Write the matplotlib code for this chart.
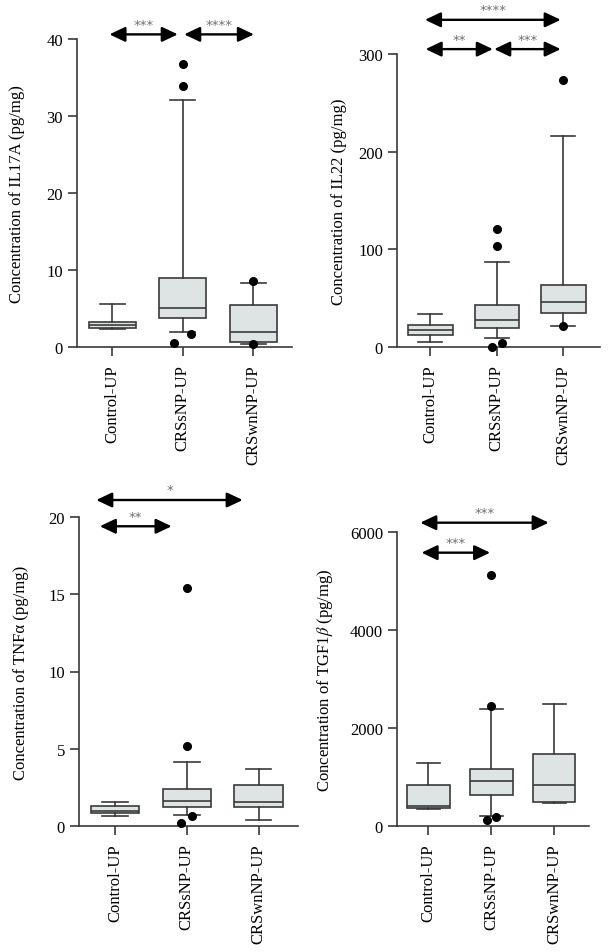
import matplotlib
matplotlib.use("Agg")
import matplotlib.pyplot as plt

plt.rcParams['font.family'] = ['Liberation Serif', 'DejaVu Serif']
plt.rcParams['mathtext.fontset'] = 'stix'

groups = ['Control-UP', 'CRSsNP-UP', 'CRSwnNP-UP']

# box stats per group: whislo, q1, med, q3, whishi
il17a_stats = [[2.4, 2.5, 2.9, 3.2, 5.6],
               [2.0, 3.8, 5.1, 9.0, 32.1],
               [0.45, 0.65, 1.9, 5.4, 8.3]]
il17a_fliers = [[], [36.8, 33.9, 0.56, 1.7], [8.6, 0.35]]
il17a_flier_dx = [[], [0, 0, -0.12, 0.12], [0, 0]]

il22_stats = [[5.5, 12.0, 17.4, 22.9, 33.8],
              [8.9, 19.5, 28.0, 42.7, 87.0],
              [21.5, 34.5, 46.5, 63.2, 216.0]]
il22_fliers = [[], [121.0, 103.5, 0.0, 4.4], [273.0, 21.5]]
il22_flier_dx = [[], [0, 0, -0.08, 0.08], [0, 0]]

tnfa_stats = [[0.67, 0.82, 1.0, 1.29, 1.57],
              [0.71, 1.23, 1.64, 2.4, 4.14],
              [0.39, 1.23, 1.55, 2.68, 3.67]]
tnfa_fliers = [[], [15.4, 5.2, 0.22, 0.65], []]
tnfa_flier_dx = [[], [0, 0, -0.08, 0.08], []]

tgf_stats = [[354, 367, 408, 830, 1279],
             [204, 633, 918, 1156, 2395],
             [463, 490, 843, 1469, 2490]]
tgf_fliers = [[], [5129, 2449, 116, 184], []]
tgf_flier_dx = [[], [0, 0, -0.07, 0.07], []]

# significance arrows: (x start, x end, y value, stars)
il17a_sig = [(0.96, 1.93, 40.6, '***'), (2.02, 3.01, 40.6, '****')]
il22_sig = [(0.92, 2.96, 335, '****'), (0.93, 1.94, 305, '**'), (1.96, 2.96, 305, '***')]
tnfa_sig = [(0.74, 2.78, 21.1, '*'), (0.79, 1.79, 19.4, '**')]
tgf_sig = [(0.87, 2.91, 6190, '***'), (0.89, 1.98, 5578, '***')]

line_c = '#3a3a3a'
fill_c = '#dde4e3'

fig = plt.figure(figsize=(6.11, 9.53), dpi=100)
W, H = 611, 953


def px_axes(left, right, top, bottom):
    return fig.add_axes([left / W, 1 - bottom / H, (right - left) / W, (bottom - top) / H])


def panel(ax, stats, fliers, flier_dx, sig, ymax, yticks, ylabel, label_x):
    bxp_stats = []
    for s in stats:
        bxp_stats.append(dict(whislo=s[0], q1=s[1], med=s[2], q3=s[3], whishi=s[4], fliers=[]))
    ax.bxp(bxp_stats, positions=[1, 2, 3], widths=0.67, patch_artist=True, showfliers=False,
           boxprops=dict(facecolor=fill_c, edgecolor=line_c, linewidth=1.2),
           medianprops=dict(color=line_c, linewidth=1.2),
           whiskerprops=dict(color=line_c, linewidth=1.2),
           capprops=dict(color=line_c, linewidth=1.2),
           capwidths=0.36)
    for i, (f, dx) in enumerate(zip(fliers, flier_dx)):
        for v, d in zip(f, dx):
            ax.plot(i + 1 + d, v, 'o', color='black', markersize=5.5, clip_on=False, zorder=5)
    for x0, x1, y, txt in sig:
        ax.annotate('', xy=(x0, y), xytext=(x1, y), annotation_clip=False,
                    arrowprops=dict(arrowstyle='<|-|>,head_length=0.95,head_width=0.45',
                                    color='black', lw=1.7, shrinkA=0, shrinkB=0))
        ax.text((x0 + x1) / 2, y + ymax * 0.012, txt, ha='center', va='bottom',
                fontsize=9.5, color='#707070', fontfamily='DejaVu Sans')
    ax.set_xlim(0.5, 3.55)
    ax.set_ylim(0, ymax)
    ax.set_yticks(yticks)
    ax.set_yticklabels(['%d' % t for t in yticks])
    ax.set_xticks([1, 2, 3])
    ax.set_xticklabels(groups, rotation=90)
    ax.set_ylabel(ylabel, fontsize=12)
    bb = ax.get_position()
    # label anchor is its right edge; half the text height is ~7 px
    ax.yaxis.set_label_coords((label_x + 7) / W / bb.width - bb.x0 / bb.width, 0.5)
    for s in ['top', 'right']:
        ax.spines[s].set_visible(False)
    for s in ['left', 'bottom']:
        ax.spines[s].set_color(line_c)
        ax.spines[s].set_linewidth(1.2)
    ax.tick_params(axis='both', length=6.5, width=1.2, color=line_c, labelsize=12)
    ax.tick_params(axis='x', pad=6)


ax1 = px_axes(77, 292, 40, 348)
panel(ax1, il17a_stats, il17a_fliers, il17a_flier_dx, il17a_sig, 40, [0, 10, 20, 30, 40],
      'Concentration of IL17A (pg/mg)', 18)

ax2 = px_axes(397, 600, 55, 348)
panel(ax2, il22_stats, il22_fliers, il22_flier_dx, il22_sig, 300, [0, 100, 200, 300],
      'Concentration of IL22 (pg/mg)', 340)

ax3 = px_axes(79, 298, 518, 827)
panel(ax3, tnfa_stats, tnfa_fliers, tnfa_flier_dx, tnfa_sig, 20, [0, 5, 10, 15, 20],
      'Concentration of TNFα (pg/mg)', 22)

ax4 = px_axes(397, 589, 533, 827)
panel(ax4, tgf_stats, tgf_fliers, tgf_flier_dx, tgf_sig, 6000, [0, 2000, 4000, 6000],
      r'Concentration of TGF1$\beta$ (pg/mg)', 328)

fig.savefig('out.png', dpi=100)
